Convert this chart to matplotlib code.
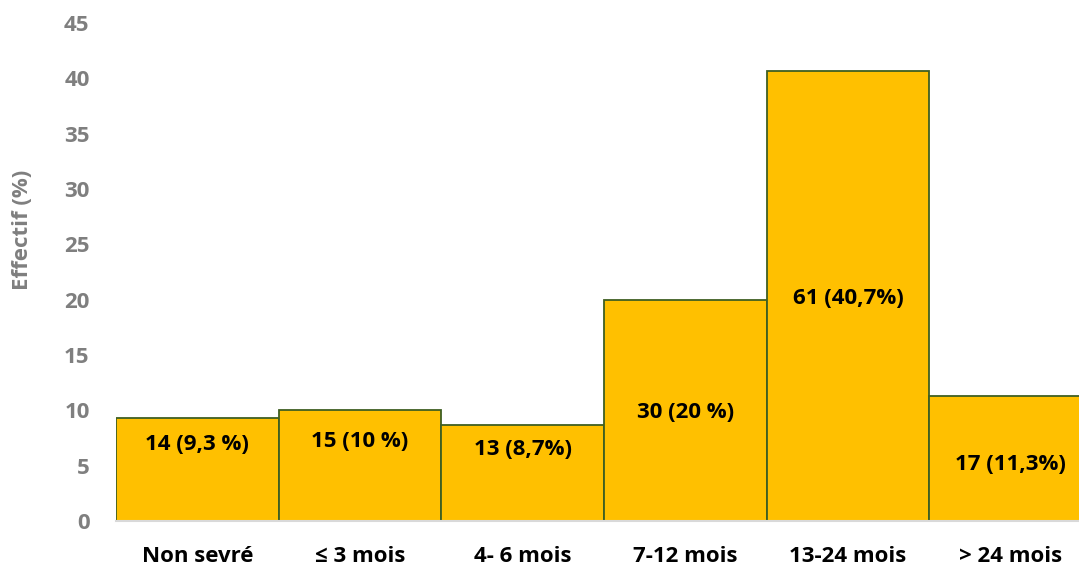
import matplotlib.pyplot as plt

# données
categories = ["Non sevré", "≤ 3 mois", "4- 6 mois", "7-12 mois", "13-24 mois", "> 24 mois"]
pourcentages = [9.3, 10.0, 8.7, 20.0, 40.7, 11.3]
etiquettes = ["14 (9,3 %)", "15 (10 %)", "13 (8,7%)", "30 (20 %)", "61 (40,7%)", "17 (11,3%)"]
etiquette_y = [6.9, 7.2, 6.5, 9.8, 20.1, 5.1]
yticks = [0, 5, 10, 15, 20, 25, 30, 35, 40, 45]

plt.rcParams['font.family'] = ['Open Sans', 'DejaVu Sans']
plt.rcParams['font.weight'] = 'bold'

fig = plt.figure(figsize=(10.79, 5.67), dpi=100)
ax = fig.add_axes([116 / 1079, 1 - 521 / 567, 963 / 1079, 498 / 567])

x = range(len(categories))
ax.bar(x, pourcentages, width=1.0, color='#FFC000', edgecolor='#3F5F22', linewidth=1.3)

for xi, txt, yy in zip(x, etiquettes, etiquette_y):
    ax.text(xi, yy, txt, ha='center', va='center', fontsize=16, fontweight='bold', color='black')

ax.set_xlim(-0.5, 5.42)
ax.set_ylim(0, 45)
ax.set_yticks(yticks)
ax.set_xticks(list(x))
ax.set_xticklabels(categories, fontsize=16, fontweight='bold', color='black')
ax.tick_params(axis='y', length=0, pad=19, labelsize=16, labelcolor='#7F7F7F')
ax.tick_params(axis='x', length=0, pad=18)

for s in ['top', 'right', 'left']:
    ax.spines[s].set_visible(False)
ax.spines['bottom'].set_color('#D9D9D9')
ax.spines['bottom'].set_linewidth(1.5)

ax.set_ylabel("Effectif (%)", fontsize=16, fontweight='bold', color='#7F7F7F')
ax.yaxis.set_label_coords(-0.086, 0.584)

fig.savefig("out.png", dpi=100)
